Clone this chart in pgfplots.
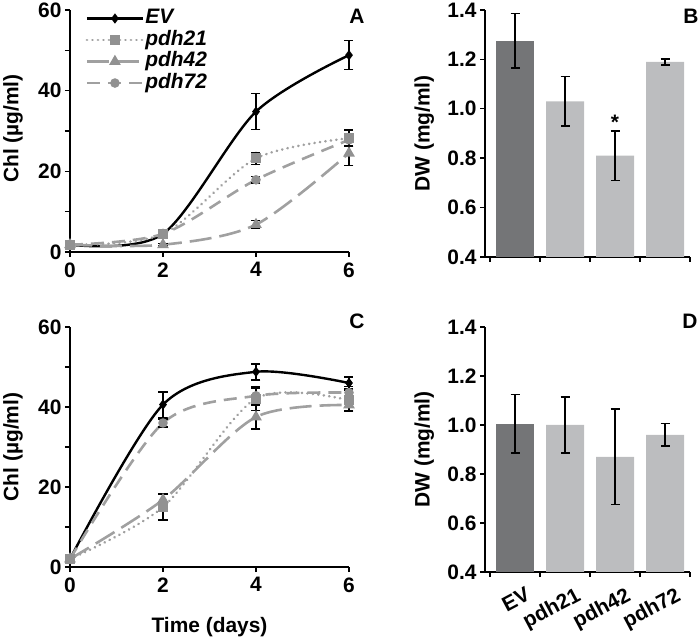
\documentclass[border=0pt]{standalone}
\usepackage{pgfplots}
\pgfplotsset{compat=1.18}
\usepackage{fontspec}
\setmainfont{Liberation Sans}
\definecolor{lg}{RGB}{160,160,160}
\definecolor{mk}{RGB}{145,145,145}
\definecolor{bardark}{RGB}{116,117,119}
\definecolor{barlight}{RGB}{188,189,191}
\newcommand{\fs}{\fontsize{21}{23}\selectfont\bfseries}

\pgfplotstableread{
x y e
0 1.8 0.2
2 4.5 0.5
4 34.8 4.5
6 48.8 3.6
}\AEV
\pgfplotstableread{
x y e
0 1.8 0.2
2 4.5 0.5
4 23.2 1.5
6 28.2 2.0
}\Aa
\pgfplotstableread{
x y e
0 1.8 0.2
2 1.8 0.3
4 6.8 1.0
6 24.5 3.0
}\Ab
\pgfplotstableread{
x y e
0 1.8 0.2
2 4.5 0.5
4 17.9 0.8
6 27.8 1.5
}\Ac
\pgfplotstableread{
x y e
0 2.0 0.2
2 40.6 3.2
4 48.8 2.0
6 46.0 1.5
}\CEV
\pgfplotstableread{
x y e
0 2.0 0.2
2 15.0 3.2
4 42.1 3.0
6 41.7 2.5
}\Ca
\pgfplotstableread{
x y e
0 2.0 0.2
2 16.8 1.5
4 37.5 3.0
6 40.5 1.5
}\Cb
\pgfplotstableread{
x y e
0 2.0 0.2
2 36.0 1.0
4 42.8 2.0
6 43.6 1.5
}\Cc

\pgfplotsset{
  common/.style={
    scale only axis,
    axis x line=bottom, axis y line=left,
    axis line style={line width=1.4bp,-},
    tick style={line width=1.4bp,black},
    tick align=outside, major tick length=5bp,
    tick label style={font=\fs},
    /pgf/number format/assume math mode=true,
    every axis y label/.style={rotate=90,anchor=north,inner sep=0pt,font=\fs},
    every axis x label/.style={anchor=north,inner sep=0pt,font=\fs,at={(axis description cs:0.5,-0.21)}},
  },
  lineax/.style={common,
    xmin=0,xmax=6,ymin=0,ymax=60,
    xtick={0,2,4,6},
    ytick={0,10,20,30,40,50,60},
    yticklabels={0,,20,,40,,60},
    xticklabel style={yshift=-2bp},
    ylabel={Chl (µg/ml)},
    clip=false,
    legend image code/.code={\draw[mark repeat=2,mark phase=2,##1] plot coordinates {(0bp,0bp) (28bp,0bp) (56bp,0bp)};},
  },
  barax/.style={common,
    xmin=-0.6,xmax=3.5,ymin=0.4,ymax=1.4,
    xtick={-0.5,0.5,1.5,2.5,3.5}, xticklabels={},
    ytick={0.4,0.6,0.8,1.0,1.2,1.4},
    yticklabel style={/pgf/number format/.cd,fixed,fixed zerofill,precision=1},
    ylabel={DW (mg/ml)},
    every axis y label/.append style={at={(axis description cs:-0.345,0.5)}},
  },
  errs/.style={error bars/.cd, y dir=both, y explicit,
    error bar style={line width=1.4bp,black,solid},
    error mark options={rotate=90,mark size=4.5bp,line width=1.4bp,black,solid}},
  sEV/.style={black,line width=2.4bp,smooth,tension=0.5,mark=diamond*,mark size=3.2bp,mark options={solid,fill=black}},
  sa/.style={lg,line width=2.8bp,smooth,tension=0.5,line cap=round,dash pattern=on 0.1bp off 5.4bp,mark=square*,mark size=3.6bp,mark options={solid,mk,fill=mk}},
  sb/.style={lg,line width=2.6bp,smooth,tension=0.5,dash pattern=on 22bp off 8bp,mark=triangle*,mark size=4.2bp,mark options={solid,mk,fill=mk}},
  sc/.style={lg,line width=2.6bp,smooth,tension=0.5,dash pattern=on 13bp off 8bp,mark=*,mark size=3.4bp,mark options={solid,mk,fill=mk}},
}

\begin{document}
\begin{tikzpicture}
\path[use as bounding box] (0,0) rectangle (700bp,638bp);

% Panel A
\begin{axis}[lineax, at={(70bp,386bp)}, anchor=south west, width=279bp, height=242bp,
  every axis y label/.append style={at={(axis description cs:-0.24,0.51)}},
  legend style={at={(axis description cs:0.055,1.01)},anchor=north west,draw=none,fill=none,
    inner sep=0pt, row sep=0pt, font=\fs\itshape,
    nodes={inner sep=1bp,text height=15bp,text depth=4.5bp}},
  legend cell align=left]
\addplot[sEV, errs] table[x=x,y=y,y error=e]{\AEV};
\addplot[sa, errs] table[x=x,y=y,y error=e]{\Aa};
\addplot[sb, errs] table[x=x,y=y,y error=e]{\Ab};
\addplot[sc, errs] table[x=x,y=y,y error=e]{\Ac};
\legend{EV,pdh21,pdh42,pdh72}
\end{axis}

% Panel C
\begin{axis}[lineax, at={(70bp,71bp)}, anchor=south west, width=279bp, height=240bp,
  every axis y label/.append style={at={(axis description cs:-0.24,0.5)}},
  xlabel={Time (days)}]
\addplot[sEV, errs] table[x=x,y=y,y error=e]{\CEV};
\addplot[sa, errs] table[x=x,y=y,y error=e]{\Ca};
\addplot[sb, errs] table[x=x,y=y,y error=e]{\Cb};
\addplot[sc, errs] table[x=x,y=y,y error=e]{\Cc};
\end{axis}

% Panel B
\begin{axis}[barax, at={(485bp,381bp)}, anchor=south west, width=205bp, height=247bp]
\addplot[ybar, bar shift=0pt, bar width=0.76, fill=bardark, draw=none, errs]
  coordinates {(0,1.275) +- (0,0.11)};
\addplot[ybar, bar shift=0pt, bar width=0.76, fill=barlight, draw=none, errs]
  coordinates {(1,1.03) +- (0,0.10) (2,0.81) +- (0,0.10) (3,1.19) +- (0,0.012)};
\node[font=\fs, anchor=base] at (axis cs:2,0.918) {*};
\end{axis}

% Panel D
\begin{axis}[barax, at={(485bp,66bp)}, anchor=south west, width=205bp, height=245bp,
  extra x ticks={0,1,2,3}, extra x tick labels={EV,pdh21,pdh42,pdh72},
  extra x tick style={major tick length=0pt,
    tick label style={rotate=28,anchor=north east,inner sep=0pt,yshift=-17bp,xshift=2bp}}]
\addplot[ybar, bar shift=0pt, bar width=0.76, fill=bardark, draw=none, errs]
  coordinates {(0,1.005) +- (0,0.12)};
\addplot[ybar, bar shift=0pt, bar width=0.76, fill=barlight, draw=none, errs]
  coordinates {(1,1.0) +- (0,0.115) (2,0.87) +- (0,0.195) (3,0.96) +- (0,0.046)};
\end{axis}

% panel letters
\node[font=\fs] at (357bp,622bp) {A};
\node[font=\fs] at (691bp,622bp) {B};
\node[font=\fs] at (357bp,317bp) {C};
\node[font=\fs] at (690bp,317bp) {D};
\end{tikzpicture}
\end{document}
